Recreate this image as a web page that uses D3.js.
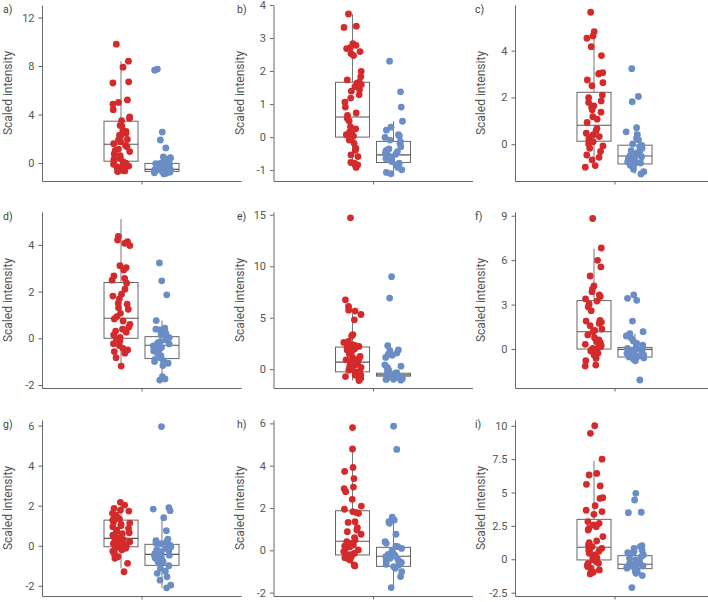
<!DOCTYPE html>
<html>
<head>
<meta charset="utf-8">
<script src="https://cdn.jsdelivr.net/npm/d3@7"></script>
<style>
  html, body { margin: 0; padding: 0; background: #fff; }
  svg text { font-family: Roboto, "Liberation Sans", Arial, sans-serif; }
</style>
</head>
<body>
<script>
// ---------- data ----------
const panelLabels = ["a)", "b)", "c)", "d)", "e)", "f)", "g)", "h)", "i)"];
const groups = ["red", "blue"];

const redA = [9.8, 8.4, 7.9, 6.7, 6.6, 5.2, 5.0, 4.85, 4.4, 3.8, 3.7, 3.5, 3.1, 3.05, 2.7, 2.6, 2.45, 2.3, 2.2, 1.95, 1.9, 1.75, 1.6, 1.45, 1.35, 1.15, 1.05, 0.95, 0.75, 0.6, 0.4, 0.3, 0.2, 0.1, 0.0, -0.1, -0.15, -0.25, -0.3, -0.35, -0.45, -0.5, -0.6, -0.65, -0.7];
const blueA = [7.75, 7.65, 2.55, 1.9, 1.25, 0.5, 0.45, 0.4, 0.3, 0.2, 0.1, 0.0, -0.05, -0.1, -0.15, -0.2, -0.25, -0.3, -0.35, -0.35, -0.4, -0.45, -0.45, -0.5, -0.5, -0.55, -0.55, -0.6, -0.6, -0.6, -0.65, -0.65, -0.7, -0.7, -0.75, -0.8, -0.85, -0.9];
const redB = [3.73, 3.36, 3.32, 2.83, 2.78, 2.71, 2.68, 2.59, 2.53, 2.47, 1.99, 1.83, 1.73, 1.66, 1.63, 1.59, 1.53, 1.43, 1.39, 1.28, 1.18, 1.06, 0.91, 0.73, 0.66, 0.56, 0.49, 0.31, 0.25, 0.15, 0.11, 0.07, 0.03, -0.03, -0.09, -0.19, -0.34, -0.4, -0.54, -0.59, -0.77, -0.79, -0.84, -0.92];
const blueB = [2.3, 1.37, 0.91, 0.48, 0.3, 0.21, 0.07, 0.03, -0.01, -0.09, -0.14, -0.19, -0.29, -0.36, -0.44, -0.49, -0.52, -0.54, -0.59, -0.64, -0.69, -0.74, -0.79, -0.84, -0.92, -0.99, -1.07, -1.11, -0.6, -0.7, -0.4, -0.55, -0.65];
const redC = [5.64, 4.81, 4.63, 4.53, 4.17, 3.79, 3.06, 3.03, 3.0, 2.75, 2.63, 2.5, 2.1, 1.99, 1.85, 1.78, 1.64, 1.57, 1.47, 1.37, 1.18, 1.07, 0.93, 0.68, 0.57, 0.47, 0.4, 0.33, 0.26, 0.19, 0.11, 0.01, -0.07, -0.17, -0.31, -0.46, -0.56, -0.67, -0.91, -0.98];
const blueC = [3.23, 2.04, 1.82, 0.71, 0.53, 0.41, 0.26, 0.19, 0.01, -0.05, -0.17, -0.27, -0.36, -0.46, -0.53, -0.61, -0.7, -0.78, -0.87, -0.95, -1.07, -1.17, -1.27, -0.4, -0.6, -0.8, -0.9, -0.3, -0.1, -0.65, -0.75, -0.5];
const redD = [4.37, 4.21, 4.14, 4.07, 3.97, 3.11, 3.03, 2.93, 2.67, 2.57, 2.49, 2.36, 2.1, 1.89, 1.81, 1.69, 1.5, 1.46, 1.31, 1.24, 1.07, 0.93, 0.83, 0.74, 0.6, 0.47, 0.39, 0.31, 0.26, 0.14, 0.04, -0.03, -0.11, -0.23, -0.31, -0.43, -0.5, -0.57, -0.64, -0.83, -1.19];
const blueD = [3.23, 2.46, 1.86, 0.76, 0.43, 0.39, 0.36, 0.29, 0.21, 0.14, 0.03, -0.07, -0.14, -0.24, -0.33, -0.4, -0.47, -0.54, -0.64, -0.74, -0.86, -0.96, -1.07, -1.17, -1.64, -1.74, -1.79, -0.3, -0.5, -0.9, -1.0, -0.2];
const redE = [14.7, 6.74, 6.09, 5.73, 5.64, 5.31, 4.79, 3.36, 3.22, 2.7, 2.6, 2.51, 2.38, 2.21, 2.12, 1.99, 1.86, 1.66, 1.47, 1.24, 1.14, 1.01, 0.91, 0.81, 0.68, 0.59, 0.49, 0.36, 0.26, 0.16, 0.03, -0.1, -0.23, -0.39, -0.55, -0.72, -0.88, -1.04, -1.1, 0.1, 0.5, 1.8, 2.3, -0.6, -0.3];
const blueE = [8.99, 6.91, 2.28, 1.86, 1.79, 1.56, 1.43, 1.34, 1.14, 0.42, 0.29, 0.2, 0.1, -0.07, -0.23, -0.33, -0.42, -0.49, -0.55, -0.62, -0.72, -0.81, -0.88, -0.98, -1.07, -0.5, -0.6, -0.7, -0.8, -0.9, -1.0, -0.45, -0.65, -0.75, -0.95];
const redF = [8.81, 6.82, 5.99, 5.54, 4.93, 4.26, 4.05, 3.87, 3.65, 3.54, 3.38, 3.24, 3.04, 2.84, 2.59, 1.94, 1.89, 1.73, 1.58, 1.35, 1.26, 1.17, 0.95, 0.77, 0.61, 0.5, 0.43, 0.32, 0.23, 0.14, 0.05, -0.05, -0.14, -0.29, -0.41, -0.63, -0.79, -1.08, -1.15, 0.0, -0.1, 0.2, 1.8];
const blueF = [3.65, 3.42, 3.29, 1.89, 1.17, 1.04, 0.88, 0.72, 0.54, 0.38, 0.27, 0.16, 0.09, 0.0, -0.09, -0.18, -0.29, -0.41, -0.54, -0.68, -0.79, -2.09, -0.1, -0.2, -0.3, -0.4, -0.5, -0.6, -0.7, -0.05, 0.05, -0.35, -0.45];
const redG = [2.17, 2.03, 1.87, 1.78, 1.73, 1.62, 1.53, 1.48, 1.42, 1.33, 1.28, 1.2, 1.13, 1.07, 1.0, 0.95, 0.87, 0.78, 0.7, 0.65, 0.6, 0.53, 0.45, 0.4, 0.33, 0.27, 0.2, 0.15, 0.08, 0.03, -0.02, -0.07, -0.13, -0.2, -0.27, -0.33, -0.43, -0.55, -0.63, -0.88, -1.3, 0.1, -0.1, 0.3, 0.0, -0.05];
const blueG = [5.95, 1.9, 1.83, 1.75, 1.4, 0.75, 0.33, 0.25, 0.2, 0.12, 0.03, -0.05, -0.13, -0.23, -0.3, -0.4, -0.47, -0.55, -0.63, -0.72, -0.8, -0.88, -1.0, -1.13, -1.27, -1.38, -1.55, -1.72, -1.97, -2.1, -0.5, -0.6, -0.8, 0.1, -0.2];
const redH = [5.8, 4.79, 3.92, 3.73, 3.39, 2.99, 2.91, 2.77, 2.41, 2.09, 1.94, 1.83, 1.78, 1.75, 1.35, 1.32, 1.07, 0.96, 0.88, 0.76, 0.6, 0.49, 0.41, 0.33, 0.25, 0.17, 0.09, 0.02, -0.06, -0.14, -0.22, -0.3, -0.38, -0.46, -0.69, -0.74, 0.3, 0.2, -0.2, -0.35];
const blueH = [5.87, 4.77, 1.57, 1.43, 1.35, 1.28, 0.76, 0.41, 0.33, 0.17, 0.09, 0.0, -0.09, -0.19, -0.28, -0.38, -0.47, -0.57, -0.66, -0.77, -0.85, -1.01, -1.24, -1.76, -0.3, -0.5, -0.6, -0.7, -0.2, 0.2];
const redI = [10.0, 9.43, 7.5, 6.43, 6.31, 5.61, 5.49, 4.61, 4.56, 4.01, 3.67, 3.57, 3.37, 2.82, 2.69, 2.57, 2.44, 2.32, 2.19, 1.7, 1.37, 1.25, 1.07, 0.95, 0.82, 0.7, 0.57, 0.45, 0.32, 0.2, 0.07, -0.05, -0.17, -0.3, -0.42, -0.55, -0.67, -0.8, -0.97, -1.1, 0.6, 0.1, -0.3];
const blueI = [4.94, 4.44, 3.52, 3.49, 1.02, 0.95, 0.82, 0.67, 0.57, 0.45, 0.32, 0.2, 0.07, -0.05, -0.17, -0.3, -0.42, -0.55, -0.67, -0.8, -0.92, -1.05, -1.22, -2.12, -0.4, -0.5, -0.6, -0.3, 0.5, -0.9];

const redSeries = [redA, redB, redC, redD, redE, redF, redG, redH, redI];
const blueSeries = [blueA, blueB, blueC, blueD, blueE, blueF, blueG, blueH, blueI];

// box statistics [lower whisker, Q1, median, Q3, upper whisker]
const redBoxes = [
  [-0.7, 0.15, 1.55, 3.45, 8.4],
  [-0.92, 0.0, 0.61, 1.66, 3.73],
  [-0.98, 0.13, 0.81, 2.22, 4.78],
  [-1.19, 0.0, 0.86, 2.39, 5.11],
  [-1.1, -0.26, 0.68, 2.15, 5.37],
  [-1.15, 0.0, 1.17, 3.27, 6.78],
  [-1.13, -0.05, 0.37, 1.28, 2.08],
  [-0.74, -0.22, 0.43, 1.87, 4.65],
  [-1.1, -0.05, 0.9, 2.99, 7.38]
];
const blueBoxes = [
  [-0.9, -0.69, -0.52, -0.03, 0.5],
  [-1.11, -0.77, -0.54, -0.13, 0.48],
  [-1.27, -0.84, -0.5, -0.04, 0.57],
  [-1.79, -0.87, -0.3, 0.07, 0.76],
  [-1.07, -0.68, -0.55, -0.39, -0.1],
  [-0.9, -0.54, -0.02, 0.11, 1.04],
  [-2.1, -0.98, -0.43, 0.07, 1.33],
  [-1.76, -0.76, -0.28, 0.14, 1.28],
  [-1.22, -0.7, -0.37, 0.27, 1.02]
];

const yDomains = [
  [-1.48, 13.03], [-1.33, 4.0], [-1.57, 5.95],
  [-2.13, 5.41], [-1.83, 15.27], [-2.63, 9.25],
  [-2.51, 6.28], [-2.16, 6.16], [-2.75, 10.43]
];
const yTicks = [
  [0, 4, 8, 12], [-1, 0, 1, 2, 3, 4], [0, 2, 4],
  [-2, 0, 2, 4], [0, 5, 10, 15], [0, 3, 6, 9],
  [-2, 0, 2, 4, 6], [-2, 0, 2, 4, 6], [-2.5, 0, 2.5, 5, 7.5, 10]
];
const yLabel = "Scaled intensity";

// ---------- layout ----------
const colors = { red: "#d42a2b", blue: "#6a8dc5" };
const colLefts = [42, 273.5, 515];
const rowTops = [5, 212, 420];
const labelX = [3, 237, 475];
const W = 199, H = 176;

const svg = d3.select("body").append("svg")
  .attr("width", 708).attr("height", 602);

function rng(seed) {
  let s = seed >>> 0;
  return () => { s = (s * 1664525 + 1013904223) >>> 0; return s / 4294967296; };
}

panelLabels.forEach((lab, k) => {
  const col = k % 3, row = Math.floor(k / 3);
  const g = svg.append("g").attr("transform", `translate(${colLefts[col]},${rowTops[row]})`);

  const y = d3.scaleLinear().domain(yDomains[k]).range([H, 0]);
  const xc = d3.scalePoint().domain(["all"]).range([0, W]).padding(0.5);
  const xs = d3.scaleBand().domain(groups).range([-37.5, 37.5]).paddingInner(0.17);
  const bw = xs.bandwidth();

  // y axis
  const ya = g.append("g").call(
    d3.axisLeft(y).tickValues(yTicks[k]).tickSize(3.5).tickSizeOuter(0).tickPadding(4)
      .tickFormat(d => String(d))
  );
  ya.select(".domain").attr("stroke", "#666");
  ya.selectAll(".tick line").attr("stroke", "#666");
  ya.selectAll(".tick text").attr("fill", "#555").style("font-size", "11px");

  // x axis
  const xa = g.append("g").attr("transform", `translate(0,${H})`).call(
    d3.axisBottom(xc).tickSize(3.5).tickSizeOuter(0).tickFormat("")
  );
  xa.select(".domain").attr("stroke", "#666");
  xa.selectAll(".tick line").attr("stroke", "#666");

  // y label
  g.append("text")
    .attr("transform", `translate(-30,${H / 2}) rotate(-90)`)
    .attr("text-anchor", "middle")
    .attr("fill", "#555")
    .style("font-size", "12px")
    .text(yLabel);

  // panel label
  svg.append("text")
    .attr("x", labelX[col]).attr("y", rowTops[row] + 8)
    .attr("fill", "#444")
    .style("font-size", "10.5px")
    .text(lab);

  const boxes = { red: redBoxes[k], blue: blueBoxes[k] };
  const series = { red: redSeries[k], blue: blueSeries[k] };

  groups.forEach((grp) => {
    const x0 = xc("all") + xs(grp);
    const cx = x0 + bw / 2;
    const [lo, q1, med, q3, hi] = boxes[grp];
    const bg = g.append("g");
    bg.append("line").attr("x1", cx).attr("x2", cx).attr("y1", y(hi)).attr("y2", y(q3))
      .attr("stroke", "#777").attr("stroke-width", 1);
    bg.append("line").attr("x1", cx).attr("x2", cx).attr("y1", y(q1)).attr("y2", y(lo))
      .attr("stroke", "#777").attr("stroke-width", 1);
    bg.append("rect").attr("x", x0).attr("width", bw)
      .attr("y", y(q3)).attr("height", y(q1) - y(q3))
      .attr("fill", "#fff").attr("stroke", "#666").attr("stroke-width", 1);
    bg.append("line").attr("x1", x0).attr("x2", x0 + bw).attr("y1", y(med)).attr("y2", y(med))
      .attr("stroke", "#555").attr("stroke-width", 1.1);
  });

  groups.forEach((grp, gi) => {
    const x0 = xc("all") + xs(grp);
    const cx = x0 + bw / 2;
    const r = rng(k * 97 + gi * 13 + 7);
    g.append("g").selectAll("circle")
      .data(series[grp])
      .join("circle")
      .attr("cx", () => cx + (r() - 0.5) * 18)
      .attr("cy", d => y(d))
      .attr("r", 3.4)
      .attr("fill", colors[grp]);
  });
});
</script>
</body>
</html>
